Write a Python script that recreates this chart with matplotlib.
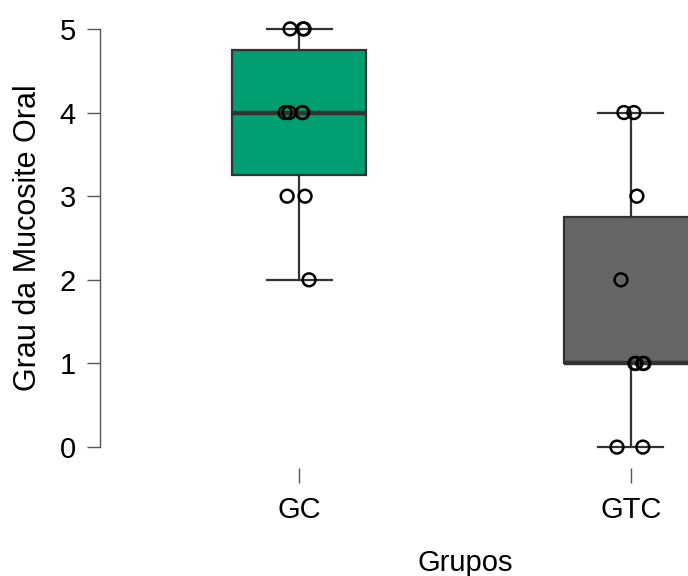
import numpy as np
import matplotlib.pyplot as plt

plt.rcParams['font.family'] = ['Liberation Sans', 'DejaVu Sans']

# Data
grupos = ['GC', 'GTC']
gc_values = [5, 5, 5, 4, 4, 4, 4, 3, 3, 2]
gc_jitter = [-0.027, 0.012, 0.015, -0.042, -0.030, 0.009, 0.011, -0.036, 0.018, 0.030]
gtc_values = [4, 4, 3, 2, 1, 1, 1, 1, 0, 0]
gtc_jitter = [-0.021, 0.009, 0.018, -0.030, 0.012, 0.039, 0.015, 0.036, -0.042, 0.036]
box_colors = ['#009E73', '#666666']

fig = plt.figure(figsize=(6.88, 5.76), dpi=100)
ax = fig.add_axes([100 / 688, 108 / 576, 730 / 688, 460 / 576])

bp = ax.boxplot([gc_values, gtc_values], positions=[1, 2], widths=0.404,
                patch_artist=True, showfliers=False,
                boxprops=dict(edgecolor='#333333', linewidth=1.6),
                whiskerprops=dict(color='#333333', linewidth=1.6),
                capprops=dict(color='#333333', linewidth=1.6),
                medianprops=dict(color='#333333', linewidth=3.2),
                capwidths=0.196)
for patch, c in zip(bp['boxes'], box_colors):
    patch.set_facecolor(c)

for pos, vals, jit in [(1, gc_values, gc_jitter), (2, gtc_values, gtc_jitter)]:
    ax.scatter(pos + np.array(jit), vals, s=85, facecolors='none',
               edgecolors='black', linewidths=1.8, zorder=5, clip_on=False)

ax.set_xlim(0.4, 2.6)
ax.set_ylim(-0.25, 5.25)
ax.set_xticks([1, 2])
ax.set_xticklabels(grupos)
ax.set_yticks(range(0, 6))

for s in ['top', 'right', 'bottom']:
    ax.spines[s].set_visible(False)
ax.spines['left'].set_bounds(0, 5)
ax.spines['left'].set_color('#555555')
ax.spines['left'].set_linewidth(1.0)

ax.tick_params(axis='y', length=9.5, width=1.0, color='#555555', labelsize=21, pad=8)
ax.tick_params(axis='x', length=11, width=1.0, color='#555555', labelsize=21, pad=9)

ax.set_xlabel('Grupos', fontsize=21, labelpad=18)
ax.set_ylabel('Grau da Mucosite Oral', fontsize=22, labelpad=12)

fig.savefig('out.png', dpi=100)
